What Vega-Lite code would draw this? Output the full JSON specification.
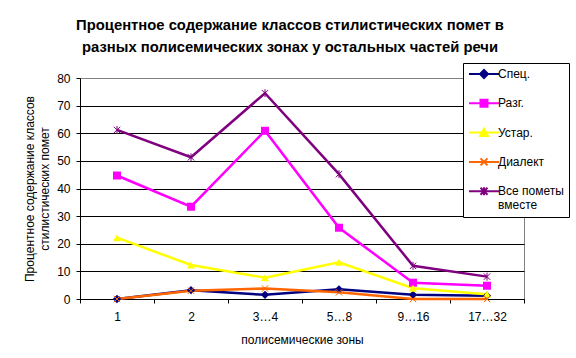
{
  "$schema": "https://vega.github.io/schema/vega-lite/v6.json",
  "autosize": {"type": "none"},
  "width": 444,
  "height": 221,
  "padding": {"left": 80, "top": 78, "right": 52, "bottom": 59},
  "background": "white",
  "title": {
    "text": ["Процентное содержание классов стилистических помет в", "разных полисемических зонах у остальных частей речи"],
    "font": "Liberation Sans",
    "fontSize": 14.8,
    "fontWeight": "bold",
    "color": "black",
    "lineHeight": 22,
    "anchor": "middle",
    "dx": -12,
    "offset": 8
  },
  "data": {
    "values": [
      {"zone": "1", "series": "Спец.", "value": 0},
      {"zone": "2", "series": "Спец.", "value": 3.2},
      {"zone": "3…4", "series": "Спец.", "value": 1.5},
      {"zone": "5…8", "series": "Спец.", "value": 3.5},
      {"zone": "9…16", "series": "Спец.", "value": 1.5},
      {"zone": "17…32", "series": "Спец.", "value": 1.2},
      {"zone": "1", "series": "Разг.", "value": 44.7},
      {"zone": "2", "series": "Разг.", "value": 33.4},
      {"zone": "3…4", "series": "Разг.", "value": 60.9},
      {"zone": "5…8", "series": "Разг.", "value": 25.8},
      {"zone": "9…16", "series": "Разг.", "value": 5.9},
      {"zone": "17…32", "series": "Разг.", "value": 4.8},
      {"zone": "1", "series": "Устар.", "value": 22.2},
      {"zone": "2", "series": "Устар.", "value": 12.3},
      {"zone": "3…4", "series": "Устар.", "value": 7.7},
      {"zone": "5…8", "series": "Устар.", "value": 13.3},
      {"zone": "9…16", "series": "Устар.", "value": 3.9},
      {"zone": "17…32", "series": "Устар.", "value": 1.7},
      {"zone": "1", "series": "Диалект", "value": 0},
      {"zone": "2", "series": "Диалект", "value": 3},
      {"zone": "3…4", "series": "Диалект", "value": 3.8},
      {"zone": "5…8", "series": "Диалект", "value": 2.4},
      {"zone": "9…16", "series": "Диалект", "value": 0},
      {"zone": "17…32", "series": "Диалект", "value": 0},
      {"zone": "1", "series": "Все пометы вместе", "value": 61.2},
      {"zone": "2", "series": "Все пометы вместе", "value": 51.3},
      {"zone": "3…4", "series": "Все пометы вместе", "value": 74.5},
      {"zone": "5…8", "series": "Все пометы вместе", "value": 45.2},
      {"zone": "9…16", "series": "Все пометы вместе", "value": 12},
      {"zone": "17…32", "series": "Все пометы вместе", "value": 8.1}
    ]
  },
  "encoding": {
    "x": {
      "field": "zone",
      "type": "ordinal",
      "sort": ["1", "2", "3…4", "5…8", "9…16", "17…32"],
      "bandPosition": 0.5,
      "scale": {"type": "band", "paddingInner": 0, "paddingOuter": 0},
      "axis": {
        "title": "полисемические зоны",
        "labelAngle": 0,
        "tickBand": "extent",
        "tickSize": 4,
        "labelPadding": 8,
        "titlePadding": 12,
        "grid": false
      }
    },
    "y": {
      "field": "value",
      "type": "quantitative",
      "scale": {"domain": [0, 80]},
      "axis": {
        "title": ["Процентное содержание классов", "стилистических помет"],
        "values": [0, 10, 20, 30, 40, 50, 60, 70, 80],
        "tickSize": 4,
        "labelPadding": 6,
        "titlePadding": 5,
        "titleLineHeight": 15,
        "grid": true,
        "gridColor": {"condition": {"test": "datum.value === 80", "value": "#808080"}, "value": "black"}
      }
    },
    "color": {
      "field": "series",
      "type": "nominal",
      "scale": {
        "domain": ["Спец.", "Разг.", "Устар.", "Диалект", "Все пометы вместе"],
        "range": ["#000080", "#FF00FF", "#FFFF00", "#FF6600", "#800080"]
      },
      "legend": {
        "title": null,
        "orient": "none",
        "legendX": 383,
        "legendY": -15,
        "padding": 5,
        "strokeColor": "black",
        "fillColor": "white",
        "symbolSize": 100,
        "symbolStrokeWidth": 2,
        "symbolOffset": 10,
        "labelOffset": 8,
        "rowPadding": 13.3,
        "labelFont": "Liberation Sans",
        "labelFontSize": 12,
        "labelColor": "black",
        "labelLimit": 200,
        "labelExpr": "datum.label === 'Все пометы вместе' ? ['Все пометы', 'вместе'] : datum.label",
        "encode": {
          "symbols": {
            "update": {
              "shape": {"signal": "datum.value === 'Спец.' ? 'M-3,0L3,0M0,-0.8L0.8,0L0,0.8L-0.8,0Z' : datum.value === 'Разг.' ? 'M-3,0L3,0M-0.7,-0.7L0.7,-0.7L0.7,0.7L-0.7,0.7Z' : datum.value === 'Устар.' ? 'M-3,0L3,0M0,-0.8L0.8,0.7L-0.8,0.7Z' : datum.value === 'Диалект' ? 'M-3,0L3,0M-0.7,-0.7L0.7,0.7M-0.7,0.7L0.7,-0.7' : 'M-3,0L3,0M-0.7,-0.7L0.7,0.7M-0.7,0.7L0.7,-0.7M0,-0.8L0,0.8'"},
              "fill": {"scale": "color", "field": "value"},
              "stroke": {"scale": "color", "field": "value"},
              "strokeWidth": {"value": 2},
              "opacity": {"value": 1},
              "fillOpacity": {"value": 1}
            }
          }
        }
      }
    }
  },
  "layer": [
    {
      "mark": {"type": "line", "strokeWidth": 2.5}
    },
    {
      "transform": [{"filter": "datum.series === 'Спец.'"}],
      "mark": {"type": "point", "shape": "diamond", "filled": true, "size": 70, "opacity": 1}
    },
    {
      "transform": [{"filter": "datum.series === 'Разг.'"}],
      "mark": {"type": "point", "shape": "square", "filled": true, "size": 64, "opacity": 1}
    },
    {
      "transform": [{"filter": "datum.series === 'Устар.'"}],
      "mark": {"type": "point", "shape": "triangle-up", "filled": true, "size": 64, "opacity": 1}
    },
    {
      "transform": [{"filter": "datum.series === 'Диалект'"}],
      "mark": {"type": "point", "shape": "M-0.8,-0.8L0.8,0.8M-0.8,0.8L0.8,-0.8", "filled": false, "size": 64, "strokeWidth": 1, "opacity": 1}
    },
    {
      "transform": [{"filter": "datum.series === 'Все пометы вместе'"}],
      "mark": {"type": "point", "shape": "M-0.8,-0.8L0.8,0.8M-0.8,0.8L0.8,-0.8M0,-1L0,1", "filled": false, "size": 64, "strokeWidth": 1, "opacity": 1}
    }
  ],
  "config": {
    "font": "Liberation Sans",
    "view": {"stroke": "#808080", "strokeWidth": 1},
    "axis": {
      "labelFont": "Liberation Sans",
      "labelFontSize": 12,
      "labelColor": "black",
      "titleFont": "Liberation Sans",
      "titleFontSize": 12,
      "titleFontWeight": "normal",
      "titleColor": "black",
      "domainColor": "black",
      "tickColor": "black",
      "gridWidth": 1,
      "domainWidth": 1
    }
  }
}
